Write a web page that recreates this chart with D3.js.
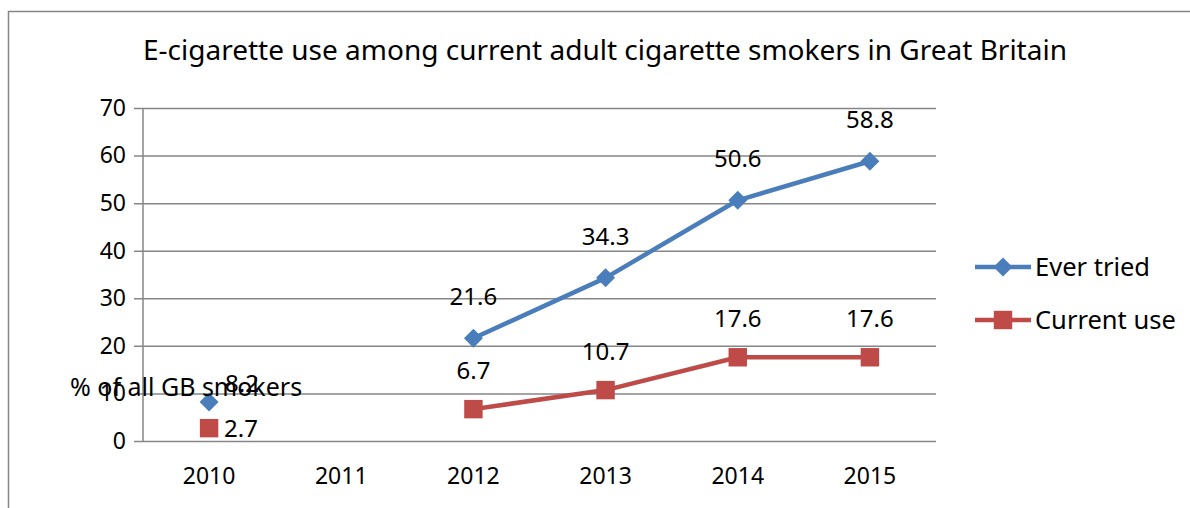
<!DOCTYPE html>
<html>
<head>
<meta charset="utf-8">
<script src="https://cdn.jsdelivr.net/npm/d3@7"></script>
<style>
  body { margin: 0; background: #fff; }
  text { font-family: 'Noto Sans', 'Open Sans', sans-serif; fill: #000; }
</style>
</head>
<body>
<script>
var years = ['2010', '2011', '2012', '2013', '2014', '2015']
var everTried = [8.2, null, 21.6, 34.3, 50.6, 58.8]
var currentUse = [2.7, null, 6.7, 10.7, 17.6, 17.6]
var yTicks = [0, 10, 20, 30, 40, 50, 60, 70]

var w = 1190
var h = 508
var margin = { top: 108, right: 254, bottom: 67, left: 143 }
var width = w - margin.left - margin.right
var height = h - margin.top - margin.bottom

var svg = d3.select('body').append('svg')
  .attr('width', w)
  .attr('height', h)

// outer frame (only top and left visible in the crop)
svg.append('path')
  .attr('d', 'M8.5,' + h + 'V11.5H' + w)
  .attr('fill', 'none')
  .attr('stroke', '#868686')
  .attr('stroke-width', 1.5)

svg.append('text')
  .attr('x', 605)
  .attr('y', 60)
  .attr('text-anchor', 'middle')
  .style('font-size', '28px')
  .text('E-cigarette use among current adult cigarette smokers in Great Britain')

var chart = svg.append('g')
  .attr('transform', 'translate(' + margin.left + ',' + margin.top + ')')

var x = d3.scaleBand().domain(years).range([0, width])
var y = d3.scaleLinear().domain([0, 70]).range([height, 0])

// gridlines + y axis
var yAxis = d3.axisLeft(y).tickValues(yTicks).tickSize(-width).tickPadding(17)
var gy = chart.append('g').call(yAxis)
gy.select('.domain').remove()
gy.selectAll('.tick line').attr('stroke', '#868686').attr('stroke-width', 1.5).attr('x1', -9)
gy.selectAll('.tick text').style('font-size', '23px').attr('font-family', null)

chart.append('line')
  .attr('x1', 0).attr('x2', 0)
  .attr('y1', 0).attr('y2', height)
  .attr('stroke', '#868686').attr('stroke-width', 1.5)

var xAxis = d3.axisBottom(x).tickSize(0).tickPadding(27)
var gx = chart.append('g').attr('transform', 'translate(0,' + height + ')').call(xAxis)
gx.select('.domain').remove()
gx.selectAll('.tick text').style('font-size', '23px').attr('font-family', null)

var cx = function (d, i) { return x(years[i]) + x.bandwidth() / 2 }

var line = d3.line()
  .defined(function (d) { return d !== null })
  .x(cx)
  .y(function (d) { return y(d) })

var series = [
  { name: 'Ever tried', values: everTried, color: '#4a7ebb', size: 180, rot: 45, firstDx: 16, firstDy: -10, dy: -33 },
  { name: 'Current use', values: currentUse, color: '#be4b48', size: 340, rot: 0, firstDx: 15, firstDy: 9, dy: -30 }
]

var points = function (vals) {
  return vals.map(function (v, i) { return { v: v, i: i } }).filter(function (d) { return d.v !== null })
}

series.forEach(function (s) {
  chart.append('path')
    .datum(s.values)
    .attr('fill', 'none')
    .attr('stroke', s.color)
    .attr('stroke-width', 4.5)
    .attr('stroke-linejoin', 'round')
    .attr('d', line)

  chart.selectAll(null)
    .data(points(s.values))
    .enter().append('path')
    .attr('d', d3.symbol().type(d3.symbolSquare).size(s.size))
    .attr('fill', s.color)
    .attr('transform', function (d) { return 'translate(' + cx(d.v, d.i) + ',' + y(d.v) + ') rotate(' + s.rot + ')' })

  // data labels
  chart.selectAll(null)
    .data(points(s.values))
    .enter().append('text')
    .attr('x', function (d) { return cx(d.v, d.i) + (d.i === 0 ? s.firstDx : 0) })
    .attr('y', function (d) { return y(d.v) + (d.i === 0 ? s.firstDy : s.dy) })
    .attr('text-anchor', function (d) { return d.i === 0 ? 'start' : 'middle' })
    .style('font-size', '24px')
    .text(function (d) { return d.v })
})

// y title (horizontal, overlapping as in source)
svg.append('text')
  .attr('x', 70)
  .attr('y', 396)
  .style('font-size', '25px')
  .text('% of all GB smokers')

// legend
var legend = svg.append('g').attr('transform', 'translate(975,267)')
series.forEach(function (s, i) {
  var g = legend.append('g').attr('transform', 'translate(0,' + (i * 53) + ')')
  g.append('line').attr('x1', 0).attr('x2', 56).attr('stroke', s.color).attr('stroke-width', 4.5)
  g.append('path').attr('d', d3.symbol().type(d3.symbolSquare).size(s.size)).attr('fill', s.color).attr('transform', 'translate(28,0) rotate(' + s.rot + ')')
  g.append('text').attr('x', 60).attr('y', 9).style('font-size', '25.5px').text(s.name)
})
</script>
</body>
</html>
